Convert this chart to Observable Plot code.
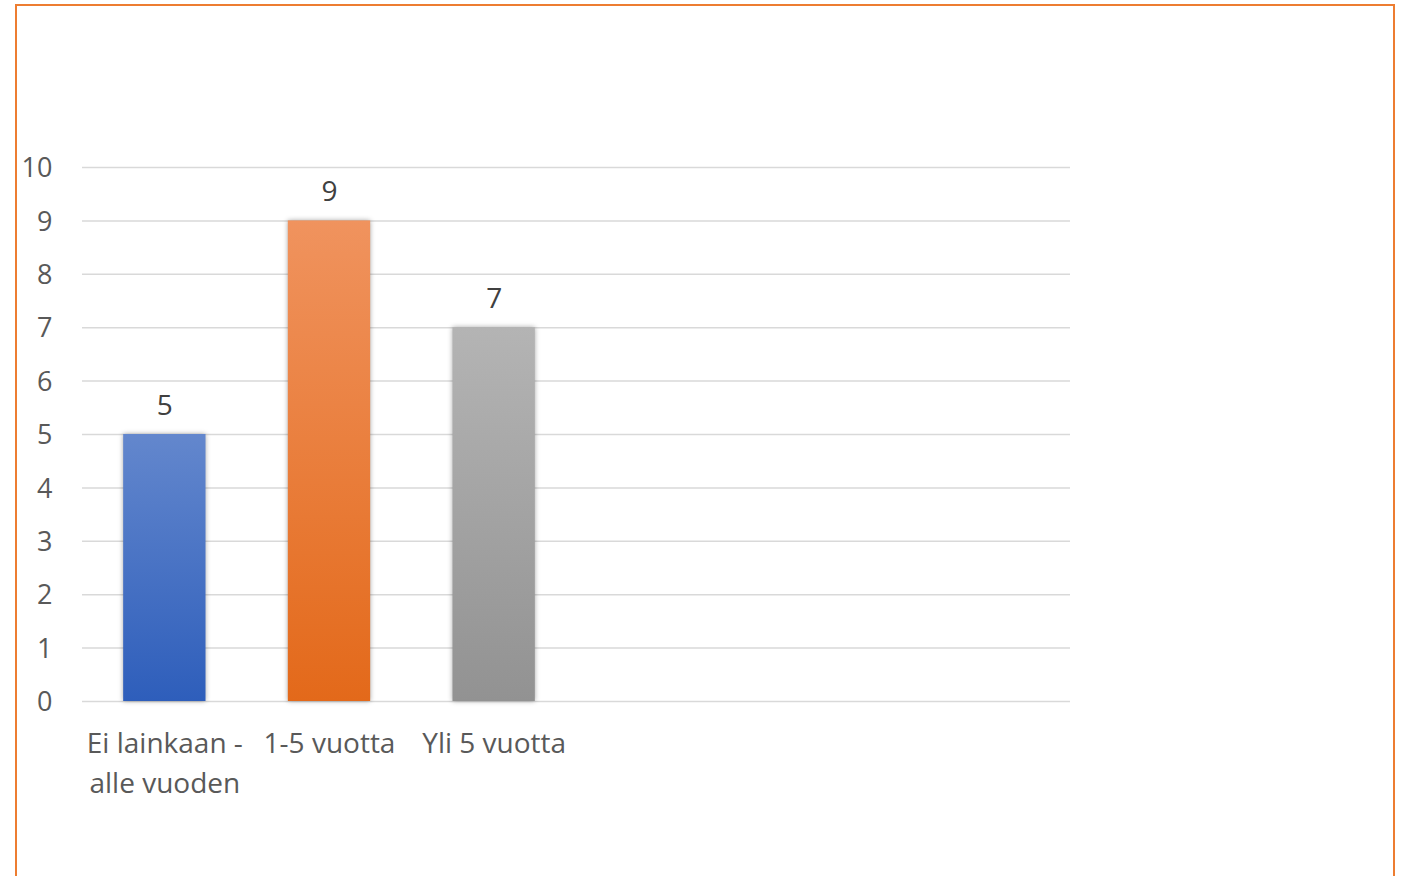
<!DOCTYPE html>
<html>
<head>
<meta charset="utf-8">
<script src="https://cdn.jsdelivr.net/npm/d3@7"></script>
<script src="https://cdn.jsdelivr.net/npm/@observablehq/plot@0.6"></script>
<style>
  html, body { margin: 0; padding: 0; background: #fff; overflow: hidden; }
  #wrap { position: relative; width: 1401px; height: 876px; }
  #frame { position: absolute; left: 15px; top: 4px; width: 1376px; height: 900px;
           border: 2px solid #ED7D31; border-bottom: none; pointer-events: none; }
  #chart { position: absolute; left: 0; top: 0; }
  .bars rect { filter: drop-shadow(0px 0px 2.5px rgba(0,0,0,0.35)); }
</style>
</head>
<body>
<div id="wrap"><div id="chart"></div><div id="frame"></div></div>
<script>
const categories = ["Ei lainkaan - alle vuoden", "1-5 vuotta", "Yli 5 vuotta"];
const values = [5, 9, 7];
const emptySlots = ["_empty1", "_empty2", "_empty3"];
const yTicks = [0, 1, 2, 3, 4, 5, 6, 7, 8, 9, 10];

const gradients = [
  ["#6387CD", "#2E5EBB"],
  ["#F0935E", "#E3691A"],
  ["#B4B4B4", "#929292"]
];

const data = categories.map((c, i) => ({category: c, value: values[i], idx: i}));

const font = "'Open Sans', 'Noto Sans', sans-serif";

const plot = Plot.plot({
  width: 1401,
  height: 876,
  marginLeft: 82,
  marginRight: 331,
  marginTop: 167,
  marginBottom: 175,
  style: {fontFamily: font, fontSize: "27px", color: "#595959", background: "transparent"},
  x: {domain: [...categories, ...emptySlots], paddingInner: 0.5, paddingOuter: 0.25, round: false, axis: null},
  y: {domain: [0, 10], axis: null},
  color: {type: "identity"},
  marks: [
    Plot.gridY(yTicks, {stroke: "#D9D9D9", strokeOpacity: 1, strokeWidth: 1.5}),
    Plot.axisY(yTicks, {tickSize: 0, tickPadding: 30, dy: 1, fill: "#595959", fontSize: 27, tickFormat: d3.format("d"), label: null}),
    Plot.barY(data, {x: "category", y: "value", fill: d => `url(#grad${d.idx})`, className: "bars"}),
    Plot.text(data, {x: "category", y: "value", text: d => String(d.value), lineAnchor: "bottom", dy: -20, fill: "#404040", fontSize: 28}),
    Plot.axisX(categories, {tickSize: 0, tickPadding: 24, fill: "#595959", fontSize: 28, lineHeight: 1.4,
      tickFormat: d => d.replace(" - ", " -\n"), label: null})
  ]
});

// gradient definitions
const ns = "http://www.w3.org/2000/svg";
const defs = document.createElementNS(ns, "defs");
gradients.forEach((g, i) => {
  const lg = document.createElementNS(ns, "linearGradient");
  lg.setAttribute("id", `grad${i}`);
  lg.setAttribute("x1", "0"); lg.setAttribute("y1", "0");
  lg.setAttribute("x2", "0"); lg.setAttribute("y2", "1");
  [[0, g[0]], [1, g[1]]].forEach(([o, c]) => {
    const s = document.createElementNS(ns, "stop");
    s.setAttribute("offset", o);
    s.setAttribute("stop-color", c);
    lg.appendChild(s);
  });
  defs.appendChild(lg);
});
plot.insertBefore(defs, plot.firstChild);

document.getElementById("chart").appendChild(plot);
</script>
</body>
</html>
